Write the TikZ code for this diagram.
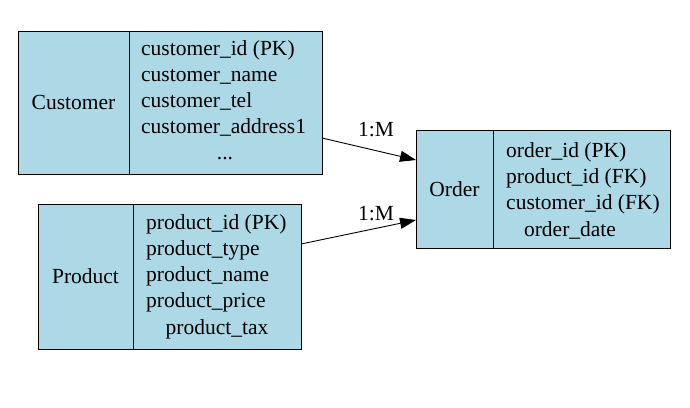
\documentclass[tikz,border=0pt]{standalone}
\usepackage{fontspec}
\setmainfont{Liberation Serif}
\usetikzlibrary{arrows.meta}
\definecolor{lb}{HTML}{ADD8E6}
\begin{document}
\begin{tikzpicture}[x=1pt,y=-1pt,
  box/.style={draw=black,fill=lb,line width=0.9pt},
  t/.style={font=\fontsize{21.5}{24}\selectfont,inner sep=0pt,anchor=base west},
  tc/.style={font=\fontsize{21.5}{24}\selectfont,inner sep=0pt,anchor=base},
  rel/.style={-{Triangle[length=16pt,width=11pt]},line width=0.9pt}]
\useasboundingbox (0,0) rectangle (690,407);
% Customer
\node[box,minimum width=304pt,minimum height=143pt,anchor=north west] (cust) at (18,31) {};
\draw[line width=0.9pt] (129,31) -- (129,174);
\node[tc] (custn) at (73.5,109) {Customer};
\node[t] (c1) at (141,55) {customer\_id (PK)};
\node[t] (c2) at (141,81) {customer\_name};
\node[t] (c3) at (141,107) {customer\_tel};
\node[t] (c4) at (141,133) {customer\_address1};
\node[tc] (c5) at (225,159) {...};
% Product
\node[box,minimum width=263pt,minimum height=145pt,anchor=north west] (prod) at (38,204) {};
\draw[line width=0.9pt] (133,204) -- (133,349);
\node[tc] (prodn) at (85.5,283) {Product};
\node[t] (p1) at (146,229) {product\_id (PK)};
\node[t] (p2) at (146,255) {product\_type};
\node[t] (p3) at (146,281) {product\_name};
\node[t] (p4) at (146,307) {product\_price};
\node[tc] (p5) at (217,334) {product\_tax};
% Order
\node[box,minimum width=254pt,minimum height=118pt,anchor=north west] (ord) at (416,130) {};
\draw[line width=0.9pt] (493,130) -- (493,248);
\node[tc] (ordn) at (454.5,196) {Order};
\node[t] (o1) at (506,157) {order\_id (PK)};
\node[t] (o2) at (506,183) {product\_id (FK)};
\node[t] (o3) at (506,209) {customer\_id (FK)};
\node[tc] (o4) at (570,236) {order\_date};
% connectors
\coordinate (a1) at (322,138); \coordinate (b1) at (416,160);
\coordinate (a2) at (301,244); \coordinate (b2) at (416,220);
\draw[rel] (a1) -- (b1);
\draw[rel] (a2) -- (b2);
\node[tc] (l1) at (376,136) {1:M};
\node[tc] (l2) at (376,220) {1:M};
\end{tikzpicture}
\end{document}
